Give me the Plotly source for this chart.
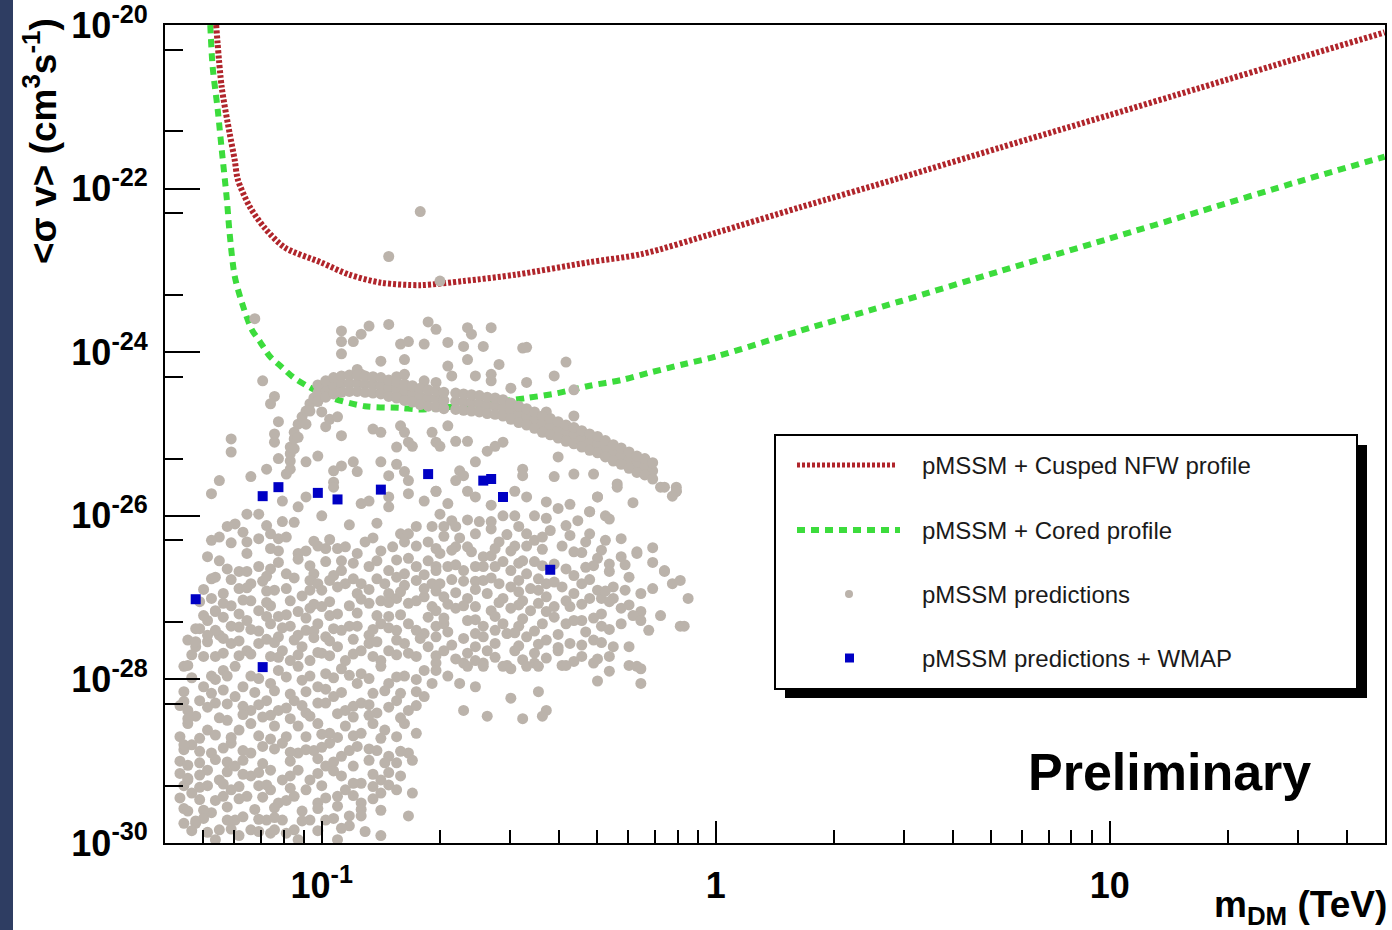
import numpy as np
import plotly.graph_objects as go

# ---------------- curves (log10 of m_DM [TeV], log10 of <sigma v> [cm^3 s^-1]) ----------------
cusped_log_m = [-1.268, -1.254, -1.234, -1.221, -1.213, -1.183, -1.145, -1.094, -1.003, -0.931,
                -0.850, -0.749, -0.640, -0.505, -0.322, -0.188, 0.000, 0.213, 0.467, 0.721,
                1.000, 1.228, 1.482, 1.698]
cusped_log_sv = [-20.00, -20.76, -21.32, -21.65, -21.89, -22.22, -22.48, -22.72, -22.90, -23.05,
                 -23.15, -23.18, -23.13, -23.05, -22.90, -22.80, -22.54, -22.23, -21.87, -21.50,
                 -21.10, -20.77, -20.40, -20.09]

cored_log_m = [-1.283, -1.277, -1.264, -1.254, -1.241, -1.234, -1.221, -1.203, -1.178, -1.157,
               -1.132, -1.102, -1.074, -1.038, -0.980, -0.891, -0.802, -0.751, -0.675, -0.574,
               -0.480, -0.401, -0.320, -0.239, -0.160, -0.084, 0.003, 0.213, 0.467, 0.721,
               1.000, 1.228, 1.482, 1.698]
cored_log_sv = [-20.00, -20.51, -21.04, -21.52, -22.13, -22.54, -23.07, -23.39, -23.72, -23.87,
                -24.05, -24.18, -24.30, -24.41, -24.55, -24.66, -24.68, -24.70, -24.67, -24.62,
                -24.56, -24.50, -24.41, -24.34, -24.24, -24.15, -24.05, -23.74, -23.38, -23.01,
                -22.61, -22.28, -21.91, -21.61]

# ---------------- pMSSM + WMAP (blue squares) ----------------
wmap_log_m = [-1.32, -1.15, -1.11, -1.01, -0.96, -0.85, -0.73, -0.59, -0.57, -0.54, -0.42, -1.15]
wmap_log_sv = [-27.02, -25.76, -25.65, -25.72, -25.80, -25.68, -25.49, -25.57, -25.55, -25.77, -26.66, -27.85]

# ---------------- pMSSM predictions (grey dots) ----------------
upper_log_m = [
    -0.75, -0.83, -0.70, -1.17, -1.15, -1.12, -1.13, -1.11, -1.23, -1.23,
    -1.12, -1.12, -1.11, -1.26, -1.18, -1.14, -1.09, -0.95, -0.90, -0.88,
    -0.83, -0.95, -0.92, -0.95, -0.80, -0.78, -0.74, -0.73, -0.85, -0.79,
    -0.91, -0.90, -0.81, -0.79, -0.74, -0.71, -1.00, -0.98, -0.96, -0.99,
    -0.95, -0.87, -0.85, -0.80, -0.79, -0.78, -0.81, -0.77, -0.72, -0.71,
    -1.04, -1.01, -0.97, -0.95, -0.92, -0.91, -0.85, -0.81, -0.79, -0.83,
    -0.78, -0.97, -0.71, -0.63, -0.57, -0.62, -0.68, -0.64, -0.59, -0.49,
    -0.63, -0.55, -0.38, -0.68, -0.67, -0.61, -0.57, -0.57, -0.48, -0.41,
    -0.52, -0.36, -0.48, -0.36, -0.43, -0.68, -0.70, -0.66, -0.63, -0.56,
    -0.54, -0.58, -0.40, -0.61, -0.49, -0.49, -0.41, -0.36, -0.31, -0.25,
    -0.65, -0.64, -0.66, -0.14, -0.10, -0.30, -0.28, -0.32, -0.20, -0.24,
    -0.10]
upper_log_sv = [
    -22.28, -22.83, -23.13, -23.59, -24.35, -24.54, -24.63, -24.85, -25.06, -25.22,
    -25.00, -25.10, -25.30, -25.57, -25.52, -25.43, -25.49, -23.74, -23.78, -23.68,
    -23.66, -23.87, -23.87, -24.02, -23.90, -23.87, -23.90, -23.63, -24.11, -24.09,
    -24.21, -24.27, -24.30, -24.27, -24.35, -24.37, -24.73, -24.82, -24.79, -24.91,
    -25.02, -24.94, -24.98, -24.90, -24.98, -25.10, -25.16, -25.15, -24.98, -25.10,
    -25.34, -25.27, -25.45, -25.39, -25.34, -25.46, -25.34, -25.37, -25.46, -25.51,
    -25.57, -25.59, -23.72, -23.70, -23.70, -23.78, -23.88, -23.93, -23.93, -23.95,
    -24.09, -24.15, -24.12, -24.17, -24.29, -24.29, -24.27, -24.35, -24.37, -24.29,
    -24.44, -24.46, -23.94, -24.78, -24.73, -24.90, -25.15, -25.09, -25.09, -25.15,
    -25.10, -25.21, -25.28, -25.34, -25.43, -25.51, -25.52, -25.49, -25.49, -25.61,
    -25.45, -25.51, -25.57, -25.65, -25.65, -25.77, -26.00, -25.95, -26.44, -26.50,
    -25.70]

arc_log_m = [-1.08, -1.08, -1.08, -1.08, -1.07, -1.07, -1.06, -1.05, -1.04, -1.03,
             -1.02, -1.07, -1.06, -1.04, -1.03, -1.01]
arc_log_sv = [-25.43, -25.33, -25.24, -25.16, -25.06, -24.98, -24.88, -24.79, -24.72, -24.63,
              -24.56, -25.18, -25.04, -24.88, -24.72, -24.60]

plateau_log_m = [-1.01, -0.99, -0.97, -0.95, -0.93, -0.91, -0.89, -0.87, -0.85, -0.83,
                 -0.81, -0.79, -0.77, -0.75, -0.73, -0.71, -0.69, -0.66, -0.64, -0.62,
                 -0.60, -0.58, -0.56, -0.54]
plateau_log_sv_mid = [-24.50, -24.45, -24.41, -24.39, -24.38, -24.38, -24.39, -24.40, -24.41, -24.44,
                      -24.46, -24.49, -24.51, -24.54, -24.56, -24.57, -24.59, -24.60, -24.61, -24.62,
                      -24.63, -24.65, -24.66, -24.68]
plateau_log_sv_hi = [-24.40, -24.35, -24.31, -24.29, -24.28, -24.28, -24.29, -24.30, -24.31, -24.34,
                     -24.36, -24.39, -24.41, -24.44, -24.46, -24.47, -24.49, -24.50, -24.51, -24.52,
                     -24.53, -24.55, -24.56, -24.58]
plateau_log_sv_lo = [-24.60, -24.55, -24.51, -24.49, -24.48, -24.48, -24.49, -24.50, -24.51, -24.54,
                     -24.56, -24.59, -24.61, -24.64, -24.66, -24.67, -24.69, -24.70, -24.71, -24.72,
                     -24.73, -24.75, -24.76, -24.78]

tail_log_m = [-0.52, -0.50, -0.48, -0.46, -0.44, -0.42, -0.40, -0.38, -0.36, -0.34,
              -0.32, -0.30, -0.28, -0.26, -0.24, -0.22, -0.20, -0.18, -0.16]
tail_log_sv_mid = [-24.72, -24.76, -24.79, -24.83, -24.88, -24.91, -24.95, -24.99, -25.02, -25.06,
                   -25.10, -25.13, -25.18, -25.23, -25.27, -25.32, -25.37, -25.40, -25.45]
tail_log_sv_hi = [-24.62, -24.66, -24.69, -24.73, -24.78, -24.81, -24.85, -24.89, -24.92, -24.96,
                  -25.00, -25.03, -25.08, -25.13, -25.17, -25.22, -25.27, -25.30, -25.35]
tail_log_sv_lo = [-24.82, -24.86, -24.89, -24.93, -24.98, -25.01, -25.05, -25.09, -25.12, -25.16,
                  -25.20, -25.23, -25.28, -25.33, -25.37, -25.42, -25.47, -25.50, -25.55]

cloud_a_log_m = [
    -1.28, -1.10, -1.06, -1.04, -1.00, -0.90, -0.88, -0.83, -0.83, -0.78,
    -0.74, -0.71, -0.97, -1.19, -1.16, -1.10, -1.24, -0.76, -0.80, -0.78,
    -1.26, -1.20, -1.19, -1.13, -1.11, -1.09, -1.13, -1.11, -1.06, -1.04,
    -1.01, -0.99, -0.96, -0.94, -0.91, -0.89, -0.85, -0.82, -0.76, -0.73,
    -0.71, -1.29, -1.19, -1.24, -1.21, -1.19, -1.16, -1.13, -1.09, -1.03,
    -1.02, -0.95, -0.95, -0.88, -0.86, -0.83, -0.79, -0.76, -0.73, -0.71,
    -1.28, -1.25, -1.21, -1.18, -1.15, -1.12, -1.05, -1.03, -1.01, -0.98,
    -1.00, -0.94, -0.90, -0.86, -0.84, -0.79, -0.76, -0.72, -0.91, -0.83,
    -1.28, -1.27, -1.23, -1.18, -1.16, -1.13, -1.11, -1.06, -1.03, -1.00,
    -0.96, -0.93, -0.88, -0.85, -0.81, -0.78, -0.74, -0.72, -0.86, -1.29,
    -1.26, -1.23, -1.19, -1.16, -1.13, -1.11, -1.08, -1.06, -1.04, -1.01,
    -0.99, -0.95, -0.91, -0.88, -0.85, -0.81, -0.78, -0.74, -0.71, -1.32,
    -1.27, -1.23, -1.19, -1.16, -1.13, -1.10, -1.08, -1.05, -1.03, -1.00,
    -0.96, -0.94, -0.90, -0.88, -0.85, -0.83, -0.79, -0.76, -0.73]
cloud_a_log_sv = [
    -25.73, -25.82, -25.89, -25.77, -26.00, -25.85, -25.82, -25.77, -25.89, -25.73,
    -25.82, -25.70, -25.65, -25.98, -25.98, -26.07, -26.13, -26.13, -26.22, -26.22,
    -26.26, -26.20, -26.32, -26.22, -26.28, -26.26, -26.40, -26.43, -26.46, -26.43,
    -26.37, -26.40, -26.40, -26.38, -26.46, -26.32, -26.43, -26.38, -26.37, -26.32,
    -26.40, -26.50, -26.46, -26.65, -26.68, -26.68, -26.62, -26.65, -26.71, -26.61,
    -26.71, -26.55, -26.67, -26.62, -26.55, -26.67, -26.71, -26.62, -26.55, -26.62,
    -26.77, -26.95, -26.89, -26.83, -26.80, -26.91, -26.98, -26.79, -26.83, -26.79,
    -26.91, -26.83, -26.83, -26.77, -26.83, -26.85, -26.79, -26.83, -26.95, -26.95,
    -27.01, -27.16, -27.10, -27.04, -27.16, -27.10, -27.23, -27.17, -27.13, -27.11,
    -27.20, -27.10, -27.07, -27.04, -27.01, -27.07, -26.99, -27.11, -27.22, -27.28,
    -27.46, -27.35, -27.28, -27.41, -27.32, -27.48, -27.35, -27.46, -27.40, -27.32,
    -27.48, -27.40, -27.35, -27.46, -27.32, -27.40, -27.32, -27.44, -27.35, -27.60,
    -27.72, -27.56, -27.65, -27.56, -27.72, -27.65, -27.77, -27.60, -27.77, -27.68,
    -27.60, -27.77, -27.65, -27.56, -27.77, -27.65, -27.56, -27.72, -27.60]

cloud_a2_log_m = [
    -1.22, -1.14, -1.07, -0.93, -0.86, -0.72,
    -1.28, -1.23, -1.16, -1.02, -0.98, -0.87, -0.79,
    -1.26, -1.11, -1.06, -0.99, -0.92, -0.81, -0.78,
    -1.27, -1.23, -1.14, -1.07, -0.97, -0.92, -0.81, -0.74,
    -1.30, -1.19, -1.14, -1.09, -1.03, -0.96, -0.88, -0.80, -0.74,
    -1.31, -1.25, -1.20, -1.14, -1.08, -1.02, -0.98, -0.90, -0.83, -0.76,
    -1.30, -1.25, -1.21, -1.14, -1.09, -1.04, -0.98, -0.91, -0.83, -0.80, -0.73,
    -1.31, -1.27, -1.21, -1.18, -1.10, -1.02, -0.97, -0.93, -0.87, -0.83, -0.76,
    -1.34, -1.29, -1.25, -1.21, -1.14, -1.12, -1.07, -1.02, -0.98, -0.92, -0.86, -0.81, -0.75,
    -1.33, -1.30, -1.25, -1.21, -1.18, -1.11, -1.06, -1.01, -0.98, -0.92, -0.87, -0.81, -0.78, -0.71]
cloud_a2_log_sv = [
    -26.10, -26.12, -26.08, -26.11, -26.09, -26.13,
    -26.30, -26.33, -26.28, -26.31, -26.29, -26.27, -26.32,
    -26.55, -26.57, -26.53, -26.56, -26.58, -26.54, -26.52,
    -26.75, -26.78, -26.74, -26.76, -26.73, -26.77, -26.75, -26.72,
    -26.90, -26.88, -26.92, -26.89, -26.91, -26.87, -26.90, -26.93, -26.89,
    -27.05, -27.07, -27.03, -27.06, -27.04, -27.08, -27.05, -27.02, -27.06, -27.04,
    -27.22, -27.24, -27.20, -27.23, -27.21, -27.25, -27.22, -27.19, -27.23, -27.21, -27.24,
    -27.38, -27.40, -27.36, -27.39, -27.37, -27.41, -27.38, -27.35, -27.39, -27.37, -27.40,
    -27.52, -27.54, -27.50, -27.53, -27.51, -27.55, -27.52, -27.49, -27.53, -27.51, -27.54, -27.52, -27.50,
    -27.70, -27.72, -27.68, -27.71, -27.69, -27.73, -27.70, -27.67, -27.71, -27.69, -27.72, -27.70, -27.68, -27.71]

cloud_b_log_m = [
    -0.71, -0.63, -0.61, -0.51, -0.48, -0.30, -0.25, -0.13, -0.10, -0.11,
    -0.70, -0.67, -0.66, -0.69, -0.60, -0.54, -0.51, -0.46, -0.40, -0.38,
    -0.32, -0.61, -0.57, -0.55, -0.50, -0.48, -0.46, -0.48, -0.51, -0.42,
    -0.39, -0.36, -0.32, -0.33, -0.28, -0.20, -0.70, -0.66, -0.63, -0.59,
    -0.57, -0.54, -0.49, -0.46, -0.30, -0.27, -0.31, -0.71, -0.68, -0.64,
    -0.61, -0.56, -0.52, -0.48, -0.38, -0.36, -0.27, -0.13, -0.11, -0.70,
    -0.64, -0.59, -0.55, -0.52, -0.47, -0.43, -0.39, -0.34, -0.30, -0.26,
    -0.23, -0.19, -0.07, -0.69, -0.63, -0.58, -0.54, -0.49, -0.43, -0.38,
    -0.32, -0.29, -0.26, -0.71, -0.66, -0.61, -0.57, -0.52, -0.47, -0.43,
    -0.37, -0.29, -0.24, -0.19, -0.14, -0.69, -0.63, -0.59, -0.54, -0.50,
    -0.44, -0.38, -0.34, -0.29, -0.24, -0.17, -0.09, -0.71, -0.64, -0.59,
    -0.53, -0.48, -0.43, -0.37, -0.31, -0.26, -0.22, -0.69, -0.63, -0.58,
    -0.51, -0.46, -0.40, -0.34, -0.27, -0.71, -0.64, -0.59, -0.53, -0.46,
    -0.39, -0.31, -0.22]
cloud_b_log_sv = [
    -25.70, -25.70, -25.77, -25.70, -25.77, -25.77, -25.65, -25.65, -25.70, -25.76,
    -25.98, -26.06, -26.13, -26.13, -26.07, -26.00, -26.00, -26.00, -25.91, -26.12,
    -25.95, -26.22, -26.16, -26.32, -26.13, -26.22, -26.30, -26.37, -26.37, -26.18,
    -26.37, -26.44, -26.22, -26.32, -26.30, -26.46, -26.46, -26.38, -26.38, -26.50,
    -26.49, -26.56, -26.55, -26.56, -26.52, -26.59, -26.61, -26.67, -26.62, -26.67,
    -26.62, -26.62, -26.67, -26.71, -26.65, -26.73, -26.68, -26.68, -26.83, -26.83,
    -26.80, -26.79, -26.83, -26.87, -26.89, -26.83, -26.87, -26.83, -26.91, -26.87,
    -26.91, -26.95, -27.01, -26.99, -27.01, -26.95, -27.01, -27.04, -26.99, -27.04,
    -27.01, -27.01, -27.01, -27.16, -27.13, -27.11, -27.16, -27.13, -27.16, -27.17,
    -27.11, -27.20, -27.13, -27.17, -27.22, -27.32, -27.28, -27.35, -27.32, -27.35,
    -27.32, -27.32, -27.28, -27.35, -27.32, -27.40, -27.35, -27.48, -27.50, -27.48,
    -27.44, -27.48, -27.52, -27.56, -27.52, -27.60, -27.60, -27.65, -27.68, -27.65,
    -27.65, -27.68, -27.65, -27.72, -27.72, -27.80, -27.80, -27.80, -27.83, -27.80,
    -27.83, -27.80, -27.83]

cloud_b2_log_m = [
    -0.68, -0.57, -0.43, -0.37, -0.21,
    -0.63, -0.57, -0.43, -0.35, -0.27,
    -0.69, -0.65, -0.53, -0.44, -0.37, -0.24,
    -0.67, -0.62, -0.56, -0.52, -0.44, -0.34, -0.29, -0.16,
    -0.66, -0.59, -0.50, -0.44, -0.41, -0.33, -0.23, -0.16,
    -0.67, -0.61, -0.57, -0.50, -0.45, -0.41, -0.32, -0.22, -0.09,
    -0.71, -0.66, -0.61, -0.50, -0.45, -0.36, -0.28, -0.16,
    -0.68, -0.64, -0.55, -0.50, -0.45, -0.41, -0.34, -0.27, -0.22,
    -0.69, -0.61, -0.56, -0.49, -0.41, -0.36, -0.31, -0.21,
    -0.68, -0.61, -0.56, -0.51, -0.46, -0.40, -0.33, -0.27,
    -0.67, -0.61, -0.56, -0.50, -0.45, -0.40, -0.34, -0.29,
    -0.66, -0.61, -0.56, -0.49, -0.43, -0.36, -0.30]
cloud_b2_log_sv = [
    -25.85, -25.87, -25.83, -25.86, -25.84,
    -26.05, -26.07, -26.03, -26.06, -26.04,
    -26.25, -26.27, -26.23, -26.26, -26.24, -26.28,
    -26.42, -26.44, -26.40, -26.43, -26.41, -26.45, -26.42, -26.39,
    -26.60, -26.62, -26.58, -26.61, -26.59, -26.63, -26.60, -26.57,
    -26.78, -26.80, -26.76, -26.79, -26.77, -26.81, -26.78, -26.75, -26.79,
    -26.92, -26.94, -26.90, -26.93, -26.91, -26.95, -26.92, -26.89,
    -27.08, -27.10, -27.06, -27.09, -27.07, -27.11, -27.08, -27.05, -27.09,
    -27.25, -27.27, -27.23, -27.26, -27.24, -27.28, -27.25, -27.22,
    -27.42, -27.44, -27.40, -27.43, -27.41, -27.45, -27.42, -27.39,
    -27.58, -27.60, -27.56, -27.59, -27.57, -27.61, -27.58, -27.55,
    -27.75, -27.77, -27.73, -27.76, -27.74, -27.78, -27.75]

cloud_c_log_m = [
    -1.35, -1.28, -1.25, -1.22, -1.18, -1.11, -1.06, -1.03, -0.99, -0.95,
    -0.90, -0.85, -0.79, -0.74, -0.72, -0.83, -0.91, -1.01, -1.13, -1.20,
    -1.30, -1.34, -1.31, -1.27, -1.22, -1.18, -1.14, -1.11, -1.07, -1.04,
    -1.01, -0.97, -0.94, -0.90, -0.87, -0.86, -0.81, -0.78, -0.74, -1.34,
    -1.29, -1.24, -1.21, -1.18, -1.12, -1.09, -1.06, -1.01, -0.98, -0.94,
    -0.90, -0.87, -0.84, -0.79, -0.76, -1.33, -1.28, -1.23, -1.18, -1.15,
    -1.10, -1.06, -1.02, -0.98, -0.95, -0.91, -0.86, -0.83, -0.78, -0.77,
    -1.34, -1.29, -1.26, -1.22, -1.18, -1.13, -1.10, -1.06, -1.03, -0.99,
    -0.95, -0.92, -0.90, -0.85, -0.81, -0.80, -1.33, -1.29, -1.27, -1.23,
    -1.19, -1.16, -1.13, -1.11, -1.07, -1.04, -1.01, -0.96, -0.94, -0.90,
    -0.85, -0.81, -0.77, -1.35, -1.32, -1.28, -1.26, -1.22, -1.18, -1.14,
    -1.10, -1.07, -1.03, -0.99, -0.93, -0.93, -0.85, -0.78, -1.27, -1.21,
    -1.13, -1.06, -0.96, -0.85]
cloud_c_log_sv = [
    -27.84, -27.96, -27.89, -27.84, -27.96, -27.89, -27.84, -27.96, -27.93, -27.87,
    -27.93, -27.84, -27.96, -27.89, -28.05, -28.05, -28.05, -28.09, -28.05, -28.09,
    -28.09, -28.38, -28.26, -28.29, -28.21, -28.38, -28.26, -28.38, -28.26, -28.41,
    -28.29, -28.21, -28.38, -28.29, -28.17, -28.41, -28.26, -28.38, -28.21, -28.54,
    -28.62, -28.50, -28.62, -28.54, -28.57, -28.70, -28.57, -28.54, -28.66, -28.57,
    -28.66, -28.54, -28.62, -28.54, -28.66, -28.80, -28.90, -28.78, -28.90, -28.82,
    -28.78, -28.90, -28.87, -28.78, -28.94, -28.82, -28.87, -28.94, -28.90, -28.99,
    -29.23, -29.11, -29.23, -29.06, -29.18, -29.11, -29.23, -29.11, -29.23, -29.06,
    -29.18, -29.06, -29.27, -29.23, -29.02, -29.18, -29.39, -29.30, -29.48, -29.35,
    -29.43, -29.30, -29.35, -29.51, -29.43, -29.35, -29.51, -29.43, -29.35, -29.51,
    -29.39, -29.35, -29.39, -29.76, -29.76, -29.63, -29.84, -29.72, -29.84, -29.72,
    -29.72, -29.84, -29.72, -29.72, -29.67, -29.79, -29.60, -29.67, -29.96, -29.91,
    -29.88, -29.96, -29.96, -29.91]

cloud_c2_log_m = [
    -1.33, -1.27, -1.24, -1.16, -1.09, -1.05, -0.97, -0.93, -0.88, -0.81, -0.76,
    -1.35, -1.28, -1.25, -1.17, -1.12, -1.08, -1.04, -0.99, -0.95, -0.84, -0.80, -0.76,
    -1.36, -1.29, -1.24, -1.20, -1.16, -1.09, -1.05, -0.99, -0.92, -0.88, -0.83, -0.76,
    -1.32, -1.26, -1.20, -1.15, -1.13, -1.08, -1.03, -0.96, -0.92, -0.88, -0.80,
    -1.36, -1.31, -1.27, -1.23, -1.16, -1.13, -1.04, -1.00, -0.96, -0.92, -0.85, -0.81,
    -1.35, -1.31, -1.25, -1.20, -1.12, -1.08, -1.04, -1.00, -0.93, -0.88, -0.80,
    -1.36, -1.31, -1.27, -1.24, -1.20, -1.15, -1.08, -1.01, -0.97, -0.88, -0.84,
    -1.36, -1.31, -1.24, -1.20, -1.16, -1.08, -1.01, -0.97, -0.87, -0.83,
    -1.35, -1.31, -1.25, -1.21, -1.14, -1.08, -1.00, -0.92, -0.87, -0.83,
    -1.36, -1.31, -1.25, -1.21, -1.15, -1.09, -0.99, -0.92, -0.87,
    -1.35, -1.30, -1.24, -1.17, -1.12, -1.05, -1.01, -0.96, -0.90,
    -1.30, -1.24, -1.20, -1.16, -1.12, -1.05, -0.97, -0.90,
    -1.33, -1.29, -1.23, -1.16, -1.12, -1.09, -1.01, -0.95, -0.89]
cloud_c2_log_sv = [
    -27.98, -28.00, -27.96, -27.99, -27.97, -28.01, -27.98, -27.95, -27.99, -27.97, -28.00,
    -28.15, -28.17, -28.13, -28.16, -28.14, -28.18, -28.15, -28.12, -28.16, -28.14, -28.17, -28.15,
    -28.32, -28.34, -28.30, -28.33, -28.31, -28.35, -28.32, -28.29, -28.33, -28.31, -28.34, -28.32,
    -28.45, -28.47, -28.43, -28.46, -28.44, -28.48, -28.45, -28.42, -28.46, -28.44, -28.47,
    -28.70, -28.72, -28.68, -28.71, -28.69, -28.73, -28.70, -28.67, -28.71, -28.69, -28.72, -28.70,
    -28.86, -28.88, -28.84, -28.87, -28.85, -28.89, -28.86, -28.83, -28.87, -28.85, -28.88,
    -29.00, -29.02, -28.98, -29.01, -28.99, -29.03, -29.00, -28.97, -29.01, -28.99, -29.02,
    -29.15, -29.17, -29.13, -29.16, -29.14, -29.18, -29.15, -29.12, -29.16, -29.14,
    -29.30, -29.32, -29.28, -29.31, -29.29, -29.33, -29.30, -29.27, -29.31, -29.29,
    -29.45, -29.47, -29.43, -29.46, -29.44, -29.48, -29.45, -29.42, -29.46,
    -29.58, -29.60, -29.56, -29.59, -29.57, -29.61, -29.58, -29.55, -29.59,
    -29.70, -29.72, -29.68, -29.71, -29.69, -29.73, -29.70, -29.67,
    -29.85, -29.87, -29.83, -29.86, -29.84, -29.88, -29.85, -29.82, -29.86]

cloud_d_log_m = [
    -0.71, -0.68, -0.63, -0.59, -0.54, -0.52, -0.48, -0.45, -0.38, -0.27,
    -0.20, -0.19, -0.65, -0.61, -0.52, -0.45, -0.30, -0.19, -0.64, -0.58,
    -0.49, -0.43, -0.44, -0.08, -0.13, -0.19, -1.34, -1.35, -1.34, -1.32,
    -1.29, -1.35, -1.34, -1.34, -1.34, -1.32, -1.32, -1.27]
cloud_d_log_sv = [
    -27.89, -27.96, -27.84, -27.84, -27.84, -27.87, -27.84, -27.84, -27.83, -27.90,
    -27.84, -27.87, -28.05, -28.09, -28.23, -28.15, -28.02, -28.05, -28.38, -28.45,
    -28.48, -28.38, -28.45, -27.35, -26.67, -27.28, -27.83, -28.80, -29.05, -29.73,
    -27.46, -28.27, -28.48, -29.21, -29.61, -27.54, -27.38, -27.17]

# ---------------- axis ticks / labels ----------------
x_major_vals = [0.1, 1, 10]
x_major_text = ["10<sup>-1</sup>", "1", "10"]
x_minor_vals = [0.05, 0.06, 0.07, 0.08, 0.09, 0.2, 0.3, 0.4, 0.5, 0.6, 0.7, 0.8, 0.9,
                2, 3, 4, 5, 6, 7, 8, 9, 20, 30, 40]
y_labeled_exp = [-20, -22, -24, -26, -28, -30]
y_unlabeled_exp = [-21, -23, -25, -27, -29]
y_minor_exp = [-21, -22, -23, -24, -25, -26, -27, -28, -29, -30]   # ticks at 5 x 10^exp
legend_labels = ["pMSSM + Cusped NFW profile", "pMSSM + Cored profile",
                 "pMSSM predictions", "pMSSM predictions + WMAP"]

# ---------------- assemble ----------------
pred_log_m = (upper_log_m + arc_log_m + plateau_log_m * 3 + tail_log_m * 3
              + cloud_a_log_m + cloud_a2_log_m + cloud_b_log_m + cloud_b2_log_m
              + cloud_c_log_m + cloud_c2_log_m + cloud_d_log_m)
pred_log_sv = (upper_log_sv + arc_log_sv + plateau_log_sv_mid + plateau_log_sv_hi + plateau_log_sv_lo
               + tail_log_sv_mid + tail_log_sv_hi + tail_log_sv_lo
               + cloud_a_log_sv + cloud_a2_log_sv + cloud_b_log_sv + cloud_b2_log_sv
               + cloud_c_log_sv + cloud_c2_log_sv + cloud_d_log_sv)


def p10(a):
    return np.power(10.0, np.array(a, dtype=float))


RED = "#b0252b"
GREEN = "#3cdc3c"
GREY = "#bbb3ab"
BLUE = "#0000c4"
FONT = "Liberation Sans, Arial, Helvetica, sans-serif"
Y_RANGE = [-30.0005, -19.9995]
X_RANGE = [np.log10(0.04), np.log10(50)]

fig = go.Figure()
fig.add_trace(go.Scatter(x=p10(cored_log_m), y=p10(cored_log_sv), mode="lines",
                         line=dict(color=GREEN, width=6, dash="8px,6px", shape="spline", smoothing=0.8),
                         name=legend_labels[1], showlegend=False, hoverinfo="skip"))
fig.add_trace(go.Scatter(x=p10(cusped_log_m), y=p10(cusped_log_sv), mode="lines",
                         line=dict(color=RED, width=6, dash="3px,2px", shape="spline", smoothing=0.8),
                         name=legend_labels[0], showlegend=False, hoverinfo="skip"))
fig.add_trace(go.Scatter(x=p10(pred_log_m), y=p10(pred_log_sv), mode="markers",
                         marker=dict(color=GREY, size=11, symbol="circle", line=dict(width=0)),
                         name=legend_labels[2], showlegend=False))
fig.add_trace(go.Scatter(x=p10(wmap_log_m), y=p10(wmap_log_sv), mode="markers",
                         marker=dict(color=BLUE, size=10, symbol="square", line=dict(width=0)),
                         name=legend_labels[3], showlegend=False))

fig.update_layout(
    xaxis=dict(
        type="log", range=X_RANGE, automargin=False,
        tickmode="array", tickvals=x_major_vals, ticktext=x_major_text,
        ticks="inside", ticklen=22, tickwidth=1.5, tickcolor="black",
        minor=dict(tickmode="array", tickvals=x_minor_vals, ticks="inside", ticklen=13,
                   tickwidth=1.5, tickcolor="black", showgrid=False),
        showline=True, linecolor="black", linewidth=2, mirror=True,
        showgrid=False, zeroline=False,
        tickfont=dict(family=FONT, size=36, color="black", weight="bold"),
        ticklabelstandoff=10, ticklabeloverflow="allow",
    ),
    yaxis=dict(
        type="log", range=Y_RANGE, automargin=False,
        tickmode="array", tickvals=[10.0 ** e for e in y_labeled_exp],
        ticktext=["10<sup>%d</sup>" % e for e in y_labeled_exp],
        ticks="inside", ticklen=35, tickwidth=1.5, tickcolor="black",
        minor=dict(tickmode="array", tickvals=[5 * 10.0 ** e for e in y_minor_exp],
                   ticks="inside", ticklen=18, tickwidth=1.5, tickcolor="black", showgrid=False),
        showline=True, linecolor="black", linewidth=2, mirror=True,
        showgrid=False, zeroline=False,
        tickfont=dict(family=FONT, size=36, color="black", weight="bold"),
        ticklabelstandoff=8, ticklabeloverflow="allow",
    ),
    # second (overlaid) y axis only carries the unlabelled long ticks at odd decades
    yaxis2=dict(
        type="log", range=Y_RANGE, overlaying="y", side="left", automargin=False,
        tickmode="array", tickvals=[10.0 ** e for e in y_unlabeled_exp],
        ticks="inside", ticklen=35, tickwidth=1.5, tickcolor="black",
        showticklabels=False, showline=False, showgrid=False, zeroline=False,
    ),
)

W, H = 1392, 930
ML, MR, MT, MB = 165, 7, 25, 87
PW, PH = W - ML - MR, H - MT - MB


def px(xp):
    return (xp - ML) / PW


def py(yp):
    return (H - MB - yp) / PH


shapes = []
shapes.append(dict(type="rect", xref="paper", yref="paper", x0=px(0), x1=px(13), y0=py(935), y1=py(-5),
                   fillcolor="#2e3d62", line=dict(width=0), layer="above"))
shapes.append(dict(type="rect", xref="paper", yref="paper", x0=px(785), x1=px(1367), y0=py(698), y1=py(445),
                   fillcolor="black", line=dict(width=0), layer="above"))
shapes.append(dict(type="rect", xref="paper", yref="paper", x0=px(775), x1=px(1357), y0=py(689), y1=py(435),
                   fillcolor="white", line=dict(color="black", width=2), layer="above"))
row_y = [465, 530, 594, 658]
shapes.append(dict(type="line", xref="paper", yref="paper", x0=px(797), x1=px(897), y0=py(row_y[0]), y1=py(row_y[0]),
                   line=dict(color=RED, width=5, dash="3px,2px"), layer="above"))
shapes.append(dict(type="line", xref="paper", yref="paper", x0=px(797), x1=px(900), y0=py(row_y[1]), y1=py(row_y[1]),
                   line=dict(color=GREEN, width=6, dash="8px,6px"), layer="above"))
shapes.append(dict(type="circle", xref="paper", yref="paper", x0=px(845), x1=px(853), y0=py(row_y[2] + 4), y1=py(row_y[2] - 4),
                   fillcolor=GREY, line=dict(width=0), layer="above"))
shapes.append(dict(type="rect", xref="paper", yref="paper", x0=px(845), x1=px(854), y0=py(row_y[3] + 4.5), y1=py(row_y[3] - 4.5),
                   fillcolor=BLUE, line=dict(width=0), layer="above"))

annotations = []
for lab, yy in zip(legend_labels, row_y):
    annotations.append(dict(text=lab, xref="paper", yref="paper", x=px(920), y=py(yy),
                            xanchor="left", yanchor="middle", showarrow=False,
                            font=dict(family=FONT, size=24, color="#1a1a1a")))
annotations.append(dict(text="<b>&lt;σ v&gt; (cm<sup>3</sup>s<sup>-1</sup>)</b>", xref="paper", yref="paper",
                        x=px(40), y=py(16), xanchor="center", yanchor="top", textangle=-90, showarrow=False,
                        font=dict(family=FONT, size=37, color="black")))
annotations.append(dict(text="<b>m<sub>DM</sub> (TeV)</b>", xref="paper", yref="paper",
                        x=px(1389), y=py(907), xanchor="right", yanchor="middle", showarrow=False,
                        font=dict(family=FONT, size=37, color="black")))
annotations.append(dict(text="<b>Preliminary</b>", xref="paper", yref="paper",
                        x=px(1169), y=py(772), xanchor="center", yanchor="middle", showarrow=False,
                        font=dict(family=FONT, size=52, color="black")))

fig.update_layout(
    width=W, height=H,
    margin=dict(l=ML, r=MR, t=MT, b=MB, autoexpand=False),
    paper_bgcolor="white", plot_bgcolor="white",
    showlegend=False,
    font=dict(family=FONT, color="black"),
    shapes=shapes, annotations=annotations,
)

fig.write_html("out.html", config={"displayModeBar": False},
               post_script="document.body.style.margin='0px';document.body.style.overflow='hidden';")
